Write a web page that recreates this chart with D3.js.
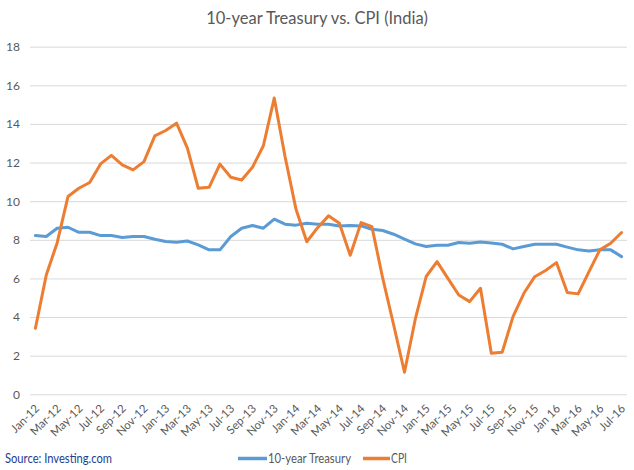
<!DOCTYPE html>
<html>
<head>
<meta charset="utf-8">
<script src="https://cdn.jsdelivr.net/npm/d3@7"></script>
<style>
  html, body { margin: 0; padding: 0; background: #fff; }
  svg { display: block; font-family: Lato, "Open Sans", "Liberation Sans", sans-serif; }
</style>
</head>
<body>
<svg id="chart" width="634" height="470"></svg>
<script>
const months = [
  "Jan-12","Feb-12","Mar-12","Apr-12","May-12","Jun-12","Jul-12","Aug-12","Sep-12","Oct-12","Nov-12","Dec-12",
  "Jan-13","Feb-13","Mar-13","Apr-13","May-13","Jun-13","Jul-13","Aug-13","Sep-13","Oct-13","Nov-13","Dec-13",
  "Jan-14","Feb-14","Mar-14","Apr-14","May-14","Jun-14","Jul-14","Aug-14","Sep-14","Oct-14","Nov-14","Dec-14",
  "Jan-15","Feb-15","Mar-15","Apr-15","May-15","Jun-15","Jul-15","Aug-15","Sep-15","Oct-15","Nov-15","Dec-15",
  "Jan-16","Feb-16","Mar-16","Apr-16","May-16","Jun-16","Jul-16"
];
const tickLabels = [
  "Jan-12","Mar-12","May-12","Jul-12","Sep-12","Nov-12","Jan-13","Mar-13","May-13","Jul-13","Sep-13","Nov-13",
  "Jan-14","Mar-14","May-14","Jul-14","Sep-14","Nov-14","Jan-15","Mar-15","May-15","Jul-15","Sep-15","Nov-15",
  "Jan 16","Mar-16","May-16","Jul-16"
];
const treasury = [
  8.22, 8.17, 8.60, 8.65, 8.39, 8.39, 8.22, 8.22, 8.12, 8.17, 8.17, 8.03,
  7.91, 7.87, 7.94, 7.74, 7.48, 7.48, 8.17, 8.60, 8.74, 8.60, 9.07, 8.81,
  8.76, 8.86, 8.81, 8.81, 8.72, 8.74, 8.72, 8.55, 8.48, 8.29, 8.03, 7.79,
  7.65, 7.72, 7.72, 7.86, 7.82, 7.89, 7.84, 7.77, 7.53, 7.65, 7.77, 7.77,
  7.77, 7.62, 7.48, 7.42, 7.48, 7.48, 7.13
];
const cpi = [
  3.42, 6.18, 7.84, 10.24, 10.67, 10.97, 11.93, 12.37, 11.88, 11.62, 12.05, 13.38,
  13.66, 14.04, 12.75, 10.67, 10.72, 11.92, 11.24, 11.10, 11.76, 12.87, 15.34, 12.30,
  9.60, 7.90, 8.63, 9.24, 8.86, 7.20, 8.89, 8.68, 6.00, 3.60, 1.14, 3.90,
  6.10, 6.87, 6.00, 5.14, 4.80, 5.49, 2.12, 2.18, 4.02, 5.23, 6.09, 6.41,
  6.82, 5.27, 5.20, 6.35, 7.48, 7.82, 8.38
];
const yTicks = [0, 2, 4, 6, 8, 10, 12, 14, 16, 18];
const seriesNames = ["10-year Treasury", "CPI"];
const seriesColors = ["#5b9bd5", "#ed7d31"];
const title = "10-year Treasury vs. CPI (India)";
const source = "Source: Investing.com";

(function () {
const svg = d3.select("#chart");
const mLeft = 30, mRight = 627, mTop = 46.7, mBottom = 394.3;

const x = d3.scalePoint().domain(months).range([mLeft, mRight]).padding(0.5);
const y = d3.scaleLinear().domain([0, 18]).range([mBottom, mTop]);

// title
svg.append("text")
  .attr("x", 317).attr("y", 24)
  .attr("text-anchor", "middle")
  .attr("font-size", 16.5)
  .attr("fill", "#595959")
  .text(title);

// gridlines
const yAxis = d3.axisLeft(y).tickValues(yTicks).tickSize(-(mRight - mLeft)).tickFormat(d3.format("d"));
const gy = svg.append("g").attr("transform", `translate(${mLeft},0)`).call(yAxis);
gy.select(".domain").remove();
gy.selectAll(".tick line").attr("stroke", "#d9d9d9").attr("stroke-width", 1);
gy.selectAll(".tick text")
  .attr("x", -10)
  .attr("font-size", 12)
  .attr("fill", "#595959")
  .attr("font-family", "Lato, 'Open Sans', sans-serif");

// x axis labels
const tickMonths = months.filter((m, i) => i % 2 === 0);
const labelByMonth = {};
tickMonths.forEach((m, k) => labelByMonth[m] = tickLabels[k]);
const xAxis = d3.axisBottom(x).tickValues(tickMonths).tickSize(0).tickFormat(m => labelByMonth[m]);
const gx = svg.append("g").attr("transform", `translate(0,${mBottom})`).call(xAxis);
gx.select(".domain").remove();
gx.selectAll(".tick text")
  .attr("font-size", 11.5)
  .attr("fill", "#595959")
  .attr("font-family", "Lato, 'Open Sans', sans-serif")
  .attr("text-anchor", "end")
  .attr("dy", 0)
  .attr("y", 0)
  .attr("transform", "translate(4,15) rotate(-45)");

// lines
const line = d3.line().x((d, i) => x(months[i])).y(d => y(d));
[treasury, cpi].forEach((s, k) => {
  svg.append("path")
    .datum(s)
    .attr("fill", "none")
    .attr("stroke", seriesColors[k])
    .attr("stroke-width", 3)
    .attr("stroke-linejoin", "round")
    .attr("stroke-linecap", "round")
    .attr("d", line);
});

// source
svg.append("text")
  .attr("x", 5).attr("y", 463)
  .attr("font-size", 12.5)
  .attr("fill", "#1f3d8f")
  .attr("textLength", 107)
  .attr("lengthAdjust", "spacingAndGlyphs")
  .text(source);

// legend
const legendPos = [{x: 238, w: 29, tw: 83}, {x: 363, w: 27, tw: 16}];
seriesNames.forEach((n, k) => {
  const g = svg.append("g");
  g.append("line")
    .attr("x1", legendPos[k].x).attr("x2", legendPos[k].x + legendPos[k].w)
    .attr("y1", 458.5).attr("y2", 458.5)
    .attr("stroke", seriesColors[k]).attr("stroke-width", 3.5);
  g.append("text")
    .attr("x", legendPos[k].x + legendPos[k].w + 1).attr("y", 463)
    .attr("font-size", 12.5)
    .attr("fill", "#595959")
    .attr("textLength", legendPos[k].tw)
    .attr("lengthAdjust", "spacingAndGlyphs")
    .text(n);
});
})();
</script>
</body>
</html>
